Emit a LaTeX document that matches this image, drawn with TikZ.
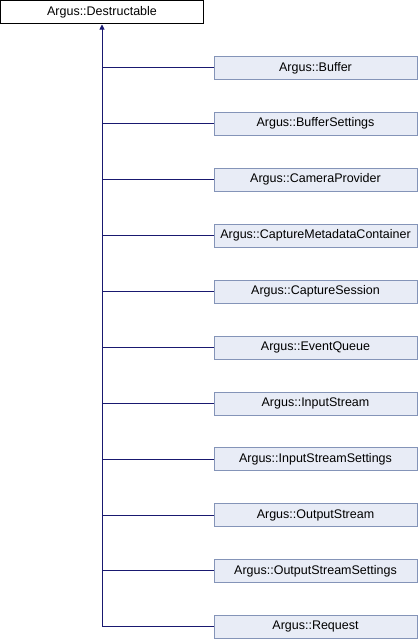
\documentclass[tikz,border=0pt]{standalone}
\usepackage{fontspec}
\setmainfont{Liberation Sans}
\usetikzlibrary{arrows.meta}
\definecolor{edgeblue}{HTML}{191970}
\definecolor{boxfill}{HTML}{E8ECF6}
\definecolor{boxline}{HTML}{8494B8}
\tikzset{
  base/.style={draw=black, fill=white, minimum width=203pt, minimum height=23pt, inner sep=0pt, font=\fontsize{12.5}{14}\selectfont},
  child/.style={draw=boxline, fill=boxfill, minimum width=203pt, minimum height=23pt, inner sep=0pt, font=\fontsize{12.5}{14}\selectfont},
  edge/.style={draw=edgeblue, line width=0.9pt},
}
\begin{document}
\begin{tikzpicture}[x=1pt,y=-1pt]
\useasboundingbox (0,0) rectangle (418,640);
\node[base] (d) at (102,11.8) {Argus::Destructable};
\foreach \name/\txt [count=\i from 0] in {
  b/Argus::Buffer,
  bs/Argus::BufferSettings,
  cp/Argus::CameraProvider,
  cmc/Argus::CaptureMetadataContainer,
  cs/Argus::CaptureSession,
  eq/Argus::EventQueue,
  is/Argus::InputStream,
  iss/Argus::InputStreamSettings,
  os/Argus::OutputStream,
  oss/Argus::OutputStreamSettings,
  r/Argus::Request}{
  \node[child] (\name) at (315.5,67.8+55.9*\i) {\txt};
  \coordinate (j\name) at (d.south |- \name.west);
  \draw[edge] (\name.west) -- (j\name);
}
\draw[edge, -{Triangle[length=5pt,width=5pt]}, shorten >=1pt] (jr) -- (d.south);
\end{tikzpicture}
\end{document}
